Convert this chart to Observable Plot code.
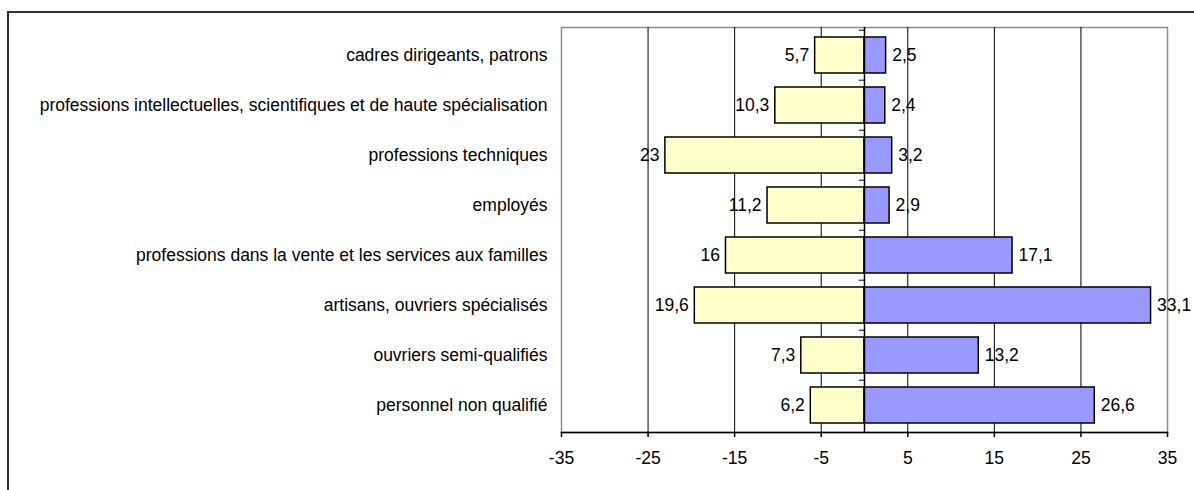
<!DOCTYPE html>
<html>
<head>
<meta charset="utf-8">
<script src="https://cdn.jsdelivr.net/npm/d3@7"></script>
<script src="https://cdn.jsdelivr.net/npm/@observablehq/plot@0.6"></script>
<style>
  html, body { margin: 0; padding: 0; background: #fff; }
  #wrap { position: relative; width: 1194px; height: 490px; overflow: hidden; }
  #box { position: absolute; left: 7px; top: 11px; width: 1200px; height: 500px;
         border: 2px solid #333; box-sizing: border-box; }
  #chart { position: absolute; left: 0; top: 0; }
  #chart svg { background: transparent; }
</style>
</head>
<body>
<div id="wrap">
  <div id="box"></div>
  <div id="chart"></div>
</div>
<script>
// Occupational categories, top to bottom
const categories = [
  "cadres dirigeants, patrons",
  "professions intellectuelles, scientifiques et de haute spécialisation",
  "professions techniques",
  "employés",
  "professions dans la vente et les services aux familles",
  "artisans, ouvriers spécialisés",
  "ouvriers semi-qualifiés",
  "personnel non qualifié"
];
// Shares (%) drawn to the left of zero (yellow bars)
const leftShares = [5.7, 10.3, 23, 11.2, 16, 19.6, 7.3, 6.2];
// Shares (%) drawn to the right of zero (blue bars)
const rightShares = [2.5, 2.4, 3.2, 2.9, 17.1, 33.1, 13.2, 26.6];
// Axis tick values and vertical grid lines
const xTicks = [-35, -25, -15, -5, 5, 15, 25, 35];
const gridLines = [-25, -15, -5, 5, 15, 25];

const rows = categories.map((c, i) => ({cat: c, left: leftShares[i], right: rightShares[i]}));
const fmt = v => String(v).replace(".", ",");

const W = 1194, H = 490;
const mTop = 27, mBottom = 58, mLeft = 561, mRight = 27;
const step = (H - mTop - mBottom) / categories.length;
const font = "Liberation Sans, Arial, sans-serif";
const fs = 17.5;

const chart = Plot.plot({
  width: W,
  height: H,
  marginTop: mTop,
  marginBottom: mBottom,
  marginLeft: mLeft,
  marginRight: mRight,
  style: {fontFamily: font, fontSize: fs + "px", color: "#000", background: "transparent"},
  x: {domain: [-35, 35], label: null},
  y: {domain: categories, paddingInner: 0.29, paddingOuter: 0.145, label: null},
  marks: [
    Plot.frame({stroke: "#8c8c8c", strokeWidth: 1.5}),
    Plot.ruleX(gridLines, {stroke: "#000", strokeWidth: 1}),
    Plot.barX(rows, {x1: 0, x2: d => -d.left, y: "cat", fill: "#ffffcc", stroke: "#000", strokeWidth: 1.5}),
    Plot.barX(rows, {x1: 0, x2: "right", y: "cat", fill: "#9999ff", stroke: "#000", strokeWidth: 1.5}),
    Plot.ruleX([0], {stroke: "#000", strokeWidth: 1.5}),
    // small ticks on the zero axis at category boundaries
    Plot.ruleY(categories, {y: d => d, x1: -0.6, x2: 0, dy: -step / 2, stroke: "#000", strokeWidth: 1}),
    Plot.frame({anchor: "bottom", stroke: "#000", strokeWidth: 1.5}),
    Plot.text(rows, {x: d => -d.left, y: "cat", text: d => fmt(d.left), textAnchor: "end", dx: -6, fontSize: fs, fill: "#000"}),
    Plot.text(rows, {x: "right", y: "cat", text: d => fmt(d.right), textAnchor: "start", dx: 6, fontSize: fs, fill: "#000"}),
    Plot.axisX(xTicks, {anchor: "bottom", tickSize: 5, tickPadding: 14, tickFormat: d => String(d), fontSize: fs, stroke: "#000", strokeWidth: 1.5, label: null}),
    Plot.axisY({anchor: "left", tickSize: 0, tickPadding: 14, fontSize: fs, label: null})
  ]
});
document.getElementById("chart").appendChild(chart);
</script>
</body>
</html>
